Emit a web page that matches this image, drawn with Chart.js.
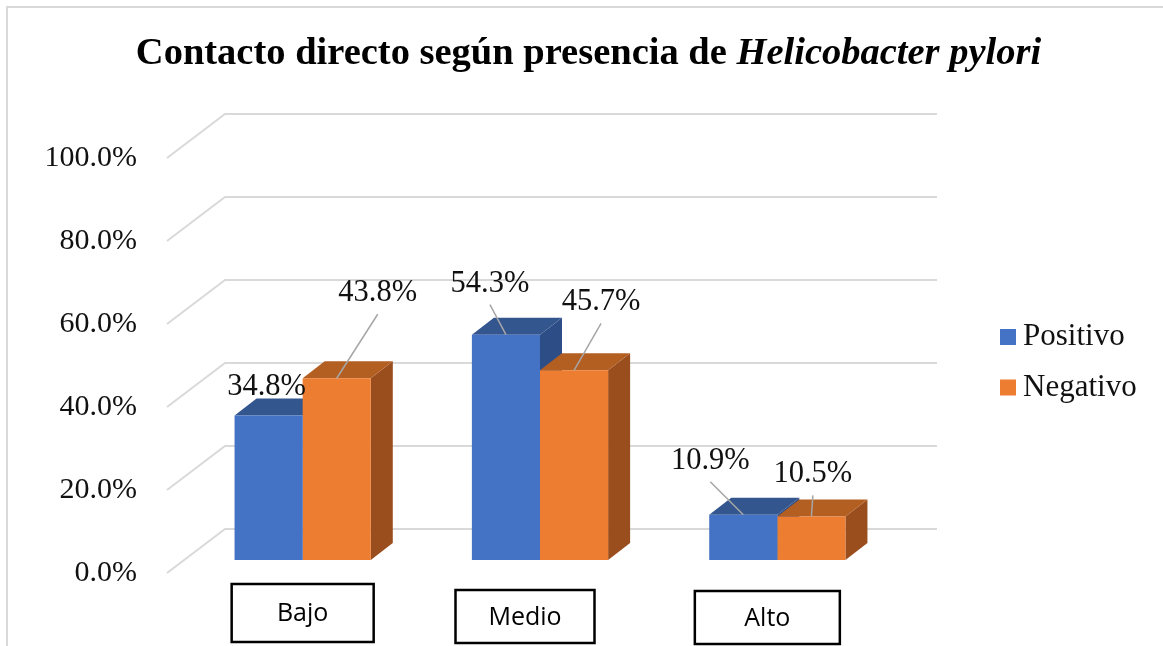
<!DOCTYPE html>
<html>
<head>
<meta charset="utf-8">
<script src="https://cdn.jsdelivr.net/npm/chart.js@4.4.1/dist/chart.umd.min.js"></script>
<style>
    body { margin: 0; background: #fff; }
    #box { width: 1163px; height: 646px; position: relative; }
</style>
</head>
<body>
<div id="box"><canvas id="contactoChart"></canvas></div>
<script>
var categorias = ['Bajo', 'Medio', 'Alto'];
var positivo = [34.8, 54.3, 10.9];
var negativo = [43.8, 45.7, 10.5];
var series = ['Positivo', 'Negativo'];

// where each data label sits relative to the top of its bar (dx, dy)
var etiquetaPos = [
    [[-2, -29], [-16, -51], [-33, -54]],
    [[41, -85], [27, -68], [1.5, -42]]
];
// boxes drawn round the category names
var cajas = [
    { dx: 0, top: 584, w: 142, h: 58 },
    { dx: -15, top: 590, w: 139, h: 53 },
    { dx: -10, top: 591, w: 145, h: 53 }
];

var BAR = { dx: 22, dy: -17 };     // bar depth
var BACK = { dx: 41, dy: -31 };    // back wall
var FRONT = { dx: -17, dy: 13 };   // front edge of floor/grid

Chart.defaults.font.family = "'Liberation Serif', 'Times New Roman', serif";
Chart.defaults.color = '#111';

var ctx = document.getElementById('contactoChart').getContext('2d');

var efecto3d = {
    id: 'efecto3d',
    beforeDatasetsDraw: function (chart) {
        var c = chart.ctx, a = chart.chartArea, y = chart.scales.y;
        c.save();
        c.strokeStyle = '#d9d9d9';
        c.lineWidth = 2;
        y.ticks.forEach(function (t) {
            var py = y.getPixelForValue(t.value);
            c.beginPath();
            c.moveTo(a.left + FRONT.dx, py + FRONT.dy);
            c.lineTo(a.left + BACK.dx, py + BACK.dy);
            c.lineTo(a.right + BACK.dx, py + BACK.dy);
            c.stroke();
        });
        chart.data.datasets.forEach(function (ds, di) {
            chart.getDatasetMeta(di).data.forEach(function (bar) {
                var l = bar.x - bar.width / 2, r = bar.x + bar.width / 2, t = bar.y, b = bar.base;
                c.fillStyle = ds.sideColor;
                c.beginPath();
                c.moveTo(r, t);
                c.lineTo(r + BAR.dx, t + BAR.dy);
                c.lineTo(r + BAR.dx, b + BAR.dy);
                c.lineTo(r, b);
                c.closePath();
                c.fill();
                c.fillStyle = ds.topColor;
                c.beginPath();
                c.moveTo(l, t);
                c.lineTo(l + BAR.dx, t + BAR.dy);
                c.lineTo(r + BAR.dx, t + BAR.dy);
                c.lineTo(r, t);
                c.closePath();
                c.fill();
            });
        });
        c.restore();
    },
    afterDatasetsDraw: function (chart) {
        var c = chart.ctx;
        c.save();
        c.font = "30.5px 'Liberation Serif'";
        c.textAlign = 'center';
        c.textBaseline = 'middle';
        chart.data.datasets.forEach(function (ds, di) {
            chart.getDatasetMeta(di).data.forEach(function (bar, i) {
                var off = etiquetaPos[di][i];
                var lx = bar.x + off[0], ly = bar.y + off[1];
                if (Math.hypot(off[0], off[1]) > 35) {
                    c.strokeStyle = '#a6a6a6';
                    c.lineWidth = 1.5;
                    c.beginPath();
                    c.moveTo(lx, ly + 21);
                    c.lineTo(bar.x, bar.y);
                    c.stroke();
                }
                c.fillStyle = '#111';
                c.fillText(ds.data[i].toFixed(1) + '%', lx, ly);
            });
        });
        c.restore();
    },
    afterDraw: function (chart) {
        var c = chart.ctx, x = chart.scales.x;
        c.save();

        // title, with the species name in italics
        var t1 = 'Contacto directo según presencia de ';
        var t2 = 'Helicobacter pylori';
        var f1 = "bold 38.5px 'Liberation Serif'";
        var f2 = "italic bold 38.5px 'Liberation Serif'";
        c.font = f1;
        var w1 = c.measureText(t1).width;
        c.font = f2;
        var w2 = c.measureText(t2).width;
        var sx = 588.5 - (w1 + w2) / 2;
        c.fillStyle = '#000';
        c.textBaseline = 'alphabetic';
        c.textAlign = 'left';
        c.font = f1;
        c.fillText(t1, sx, 64);
        c.font = f2;
        c.fillText(t2, sx + w1, 64);

        // legend
        c.font = "31px 'Liberation Serif'";
        c.textBaseline = 'middle';
        chart.data.datasets.forEach(function (ds, di) {
            var cy = 337 + di * 50.5;
            c.fillStyle = ds.backgroundColor;
            c.fillRect(1000, cy - 8, 16, 16);
            c.fillStyle = '#111';
            c.fillText(ds.label, 1023, cy);
        });

        // category names in boxes
        c.font = "25px 'Open Sans'";
        c.textAlign = 'center';
        c.strokeStyle = '#000';
        c.lineWidth = 2.5;
        chart.data.labels.forEach(function (lab, i) {
            var k = cajas[i];
            var cx = x.getPixelForValue(i) + k.dx;
            c.strokeRect(cx - k.w / 2, k.top, k.w, k.h);
            c.fillStyle = '#000';
            c.fillText(lab, cx, k.top + k.h / 2 + 1);
        });

        // outer frame
        c.strokeStyle = '#d9d9d9';
        c.lineWidth = 2;
        c.beginPath();
        c.moveTo(7, 646);
        c.lineTo(7, 7);
        c.lineTo(1163, 7);
        c.stroke();
        c.restore();
    }
};

var contactoChart = new Chart(ctx, {
    type: 'bar',
    data: {
        labels: categorias,
        datasets: [
            {
                label: series[0],
                data: positivo,
                backgroundColor: '#4472c4',
                topColor: '#34568f',
                sideColor: '#2d4d86',
                borderWidth: 0
            },
            {
                label: series[1],
                data: negativo,
                backgroundColor: '#ed7d31',
                topColor: '#b45f22',
                sideColor: '#9a4e1d',
                borderWidth: 0
            }
        ]
    },
    options: {
        responsive: true,
        maintainAspectRatio: false,
        animation: false,
        categoryPercentage: 0.574,
        barPercentage: 1,
        layout: {
            padding: { top: 145, right: 267, bottom: 0, left: 0 }
        },
        scales: {
            x: {
                grid: { display: false, drawTicks: false },
                border: { display: false },
                ticks: { display: false },
                afterFit: function (scale) { scale.height = 86; }
            },
            y: {
                min: 0,
                max: 100,
                grid: { display: false, drawTicks: false },
                border: { display: false },
                ticks: {
                    stepSize: 20,
                    padding: 47,
                    labelOffset: 13.5,
                    color: '#111',
                    font: { size: 30 },
                    callback: function (v) { return v.toFixed(1) + '%'; }
                },
                afterFit: function (scale) { scale.width = 184; }
            }
        },
        plugins: {
            legend: { display: false },
            title: { display: false },
            tooltip: { enabled: false }
        }
    },
    plugins: [efecto3d]
});
</script>
</body>
</html>
